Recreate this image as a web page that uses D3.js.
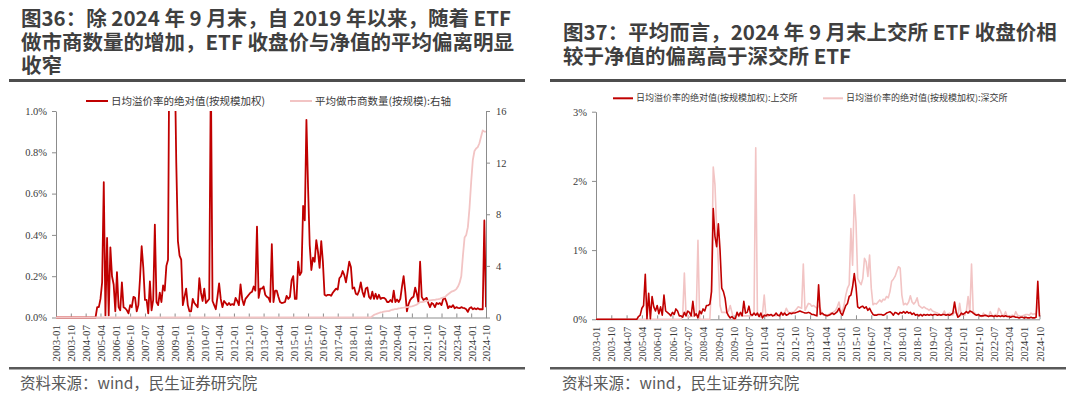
<!DOCTYPE html>
<html><head><meta charset="utf-8">
<script src="https://cdn.jsdelivr.net/npm/d3@7"></script>
<style>body{margin:0;background:#fff}svg{display:block}</style>
</head><body>
<svg id="c" width="1080" height="396"></svg>
<script>
// ---------- DATA ----------
const months = [];
for (let yr = 2003; yr <= 2024; yr++) for (let m = 1; m <= 12; m++) { if (yr === 2024 && m > 10) break; months.push(yr + "-" + String(m).padStart(2, "0")); }

const tickLabels = ["2003-01","2003-10","2004-07","2005-04","2006-01","2006-10","2007-07","2008-04","2009-01","2009-10","2010-07","2011-04","2012-01","2012-10","2013-07","2014-04","2015-01","2015-10","2016-07","2017-04","2018-01","2018-10","2019-07","2020-04","2021-01","2021-10","2022-07","2023-04","2024-01","2024-10"];

// Fig.36 : weighted abs daily premium (%), left axis
const premium = [
0,0,0,0,0,0,0,0,0,0,0,0,
0,0,0,0,0,0,0,0,0,0,0,0,
0,0.05,0.05,0.09,0.17,0.655,0.01,0.385,0.01,0.34,0.2,0.16,
0.03,0.22,0.05,0.035,0.17,0.05,0.045,0.035,0.02,0.06,0.05,0.1,
0.095,0.03,0.06,0.19,0.345,0.24,0.085,0.085,0.02,0.175,0.035,0.085,
0.45,0.075,0.06,0.12,0.075,0.155,0.13,0.25,0.28,1.6,2.0,1.8,
1.3,0.75,0.37,0.3,0.28,0.06,0.1,0.14,0.06,0.03,0.03,0.09,
0.07,0.06,0.05,0.19,0.12,0.08,0.14,0.07,0.08,0.09,1.2,0.08,
0.06,0.04,0.1,0.165,0.09,0.05,0.08,0.07,0.06,0.07,0.06,0.065,
0.06,0.095,0.08,0.06,0.16,0.09,0.06,0.09,0.1,0.11,0.12,0.125,
0.15,0.13,0.44,0.095,0.14,0.14,0.15,0.11,0.1,0.095,0.075,0.355,
0.075,0.13,0.13,0.1,0.075,0.07,0.072,0.075,0.105,0.09,0.1,0.18,
0.2,0.09,0.09,0.27,0.205,0.22,0.54,0.47,0.957,0.63,0.35,0.23,
0.29,0.27,0.375,0.32,0.24,0.37,0.27,0.11,0.105,0.11,0.11,0.105,
0.12,0.13,0.14,0.135,0.19,0.2,0.225,0.205,0.17,0.22,0.27,0.245,
0.14,0.145,0.115,0.11,0.13,0.17,0.125,0.1,0.14,0.145,0.1,0.09,
0.125,0.09,0.115,0.09,0.11,0.09,0.095,0.095,0.09,0.075,0.075,0.085,
0.075,0.13,0.075,0.087,0.075,0.09,0.15,0.2,0.125,0.03,0.065,0.085,
0.095,0.1,0.145,0.115,0.075,0.27,0.1,0.085,0.09,0.095,0.07,0.05,
0.07,0.065,0.05,0.07,0.065,0.07,0.06,0.09,0.095,0.075,0.045,0.055,
0.05,0.06,0.045,0.05,0.047,0.045,0.05,0.047,0.045,0.04,0.027,0.045,
0.05,0.04,0.045,0.04,0.045,0.04,0.04,0.04,0.47,0.05
];

// Fig.36 : average number of market makers, right axis
const makers = [
0,0,0,0,0,0,0,0,0,0,0,0,
0,0,0,0,0,0,0,0,0,0,0,0,
0,0,0,0,0,0,0,0,0,0,0,0,
0,0,0,0,0,0,0,0,0,0,0,0,
0,0,0,0,0,0,0,0,0,0,0,0,
0,0,0,0,0,0,0,0,0,0,0,0,
0,0,0,0,0,0,0,0,0,0,0,0,
0,0,0,0,0,0,0,0,0,0,0,0,
0,0,0,0,0,0,0,0,0,0,0,0,
0,0,0,0,0,0,0,0,0,0,0,0,
0,0,0,0,0,0,0,0,0,0,0,0,
0,0,0,0,0,0,0,0,0,0,0,0,
0,0,0,0,0,0,0,0,0,0,0,0,
0,0,0,0,0,0,0,0,0,0,0,0,
0,0,0,0,0,0,0,0,0,0,0,0,
0,0,0,0,0,0,0,0,0,0,0,0,
0.1,0.2,0.25,0.3,0.35,0.4,0.42,0.45,0.48,0.5,0.5,0.55,
0.6,0.62,0.65,0.66,0.7,0.72,0.75,0.76,0.78,0.8,0.82,0.85,
0.87,0.9,0.95,1.0,1.1,1.19,1.2,1.22,1.25,1.27,1.3,1.32,
1.34,1.36,1.37,1.4,1.42,1.45,1.5,1.55,1.58,1.7,1.8,1.9,
2.0,2.05,2.1,2.2,2.4,2.7,3.2,4.8,6.2,6.4,7.0,8.5,
10.5,12.2,12.9,13.1,13.2,13.5,14.0,14.5,14.4,14.4
];

// Fig.37 : Shanghai exchange (%)
const sse = [
0,0,0,0,0,0,0,0,0,0,0,0,
0,0,0,0,0,0,0,0,0,0,0,0,
0,0.04,0.06,0.16,0.2,0.65,0.01,0.375,0.01,0.33,0.18,0.12,
0.2,0.08,0.18,0.06,0.35,0.12,0.1,0.08,0.05,0.1,0.07,0.15,
0.12,0.05,0.05,0.03,0.1,0.05,0.12,0.1,0.05,0.26,0.05,0.08,
0.02,0.12,0.08,0.15,0.12,0.2,0.2,0.22,0.4,1.6,1.2,1.05,
1.38,1.0,0.45,0.4,0.3,0.1,0.05,0.02,0.04,0.01,0.01,0.1,
0.05,0.1,0.05,0.26,0.09,0.1,0.19,0.07,0.06,0.09,0.06,0.09,
0.04,0.09,0.02,0.06,0.05,0.07,0.06,0.07,0.05,0.06,0.09,0.06,
0.05,0.1,0.06,0.09,0.06,0.07,0.09,0.08,0.09,0.09,0.1,0.11,
0.12,0.11,0.1,0.09,0.09,0.1,0.09,0.07,0.07,0.06,0.05,0.5,
0.07,0.09,0.07,0.06,0.05,0.06,0.07,0.09,0.07,0.09,0.11,0.16,
0.09,0.06,0.13,0.2,0.23,0.33,0.35,0.47,0.66,0.47,0.18,0.16,
0.18,0.19,0.16,0.18,0.13,0.16,0.11,0.07,0.06,0.06,0.07,0.07,
0.07,0.06,0.07,0.09,0.1,0.11,0.09,0.06,0.1,0.09,0.07,0.1,
0.09,0.11,0.09,0.11,0.09,0.1,0.07,0.09,0.06,0.07,0.05,0.07,
0.05,0.07,0.06,0.07,0.06,0.07,0.06,0.07,0.07,0.06,0.07,0.06,
0.07,0.07,0.06,0.07,0.06,0.07,0.09,0.25,0.1,0.03,0.05,0.09,
0.07,0.09,0.11,0.09,0.12,0.11,0.09,0.07,0.06,0.07,0.05,0.05,
0.05,0.06,0.05,0.04,0.05,0.05,0.04,0.05,0.04,0.05,0.04,0.05,
0.04,0.05,0.04,0.04,0.03,0.04,0.04,0.03,0.03,0.02,0.03,0.03,
0.02,0.03,0.02,0.02,0.03,0.02,0.02,0.03,0.55,0.04
];

// Fig.37 : Shenzhen exchange (%)
const szse = [
0,0,0,0,0,0,0,0,0,0,0,0,
0,0,0,0,0,0,0,0,0,0,0,0,
0,0,0,0,0,0,0,0,0,0,0,0,
0,0,0,0,0,0,0,0,0,0,0,0,
0,0,0,0.05,0.67,0.05,0.04,0.03,0.05,0.04,0.06,0.08,
1.14,0,0,0,0,0,0,0,0.5,2.2,1.95,1.3,
0.8,0.2,0.1,0.1,0.1,0.09,0.12,0.2,0.1,0,0,0.1,
0.04,0.06,0.05,0.05,0.05,0.05,0.05,0.05,0.05,0.09,2.48,0.06,
0.05,0.03,0.09,0.35,0.05,0.04,0.05,0.06,0.05,0.06,0.05,0.06,
0.06,0.07,0.08,0.09,0.16,0.11,0.09,0.1,0.1,0.12,0.15,0.18,
0.17,0.16,0.8,0.13,0.18,0.23,0.22,0.19,0.2,0.18,0.16,0.2,
0.15,0.09,0.06,0.07,0.06,0.07,0.09,0.09,0.11,0.13,0.18,0.25,
0.13,0.11,0.21,0.35,0.45,0.5,1.31,0.78,1.8,1.41,0.59,0.54,
0.5,0.59,0.88,0.83,0.62,0.93,0.45,0.21,0.23,0.22,0.25,0.28,
0.25,0.29,0.28,0.33,0.31,0.4,0.55,0.58,0.62,0.69,0.76,0.74,
0.35,0.21,0.23,0.21,0.25,0.34,0.25,0.22,0.25,0.31,0.2,0.18,
0.16,0.18,0.16,0.15,0.13,0.15,0.12,0.11,0.1,0.09,0.07,0.06,
0.07,0.12,0.06,0.07,0.09,0.07,0.06,0.11,0.09,0.05,0.23,0.06,
0.07,0.06,0.13,0.33,0.09,0.8,0.11,0.09,0.06,0.07,0.06,0.04,
0.09,0.05,0.06,0.04,0.11,0.06,0.04,0.07,0.05,0.16,0.12,0.06,
0.05,0.11,0.04,0.04,0.05,0.06,0.04,0.11,0.06,0.05,0.04,0.05,
0.06,0.07,0.07,0.06,0.09,0.07,0.08,0.07,0.25,0.07
];

const leftTicks = [0, 0.2, 0.4, 0.6, 0.8, 1.0];
const rightTicks = [0, 4, 8, 12, 16];
const fig37Ticks = [0, 1, 2, 3];

// ---------- DRAW ----------
const RED = "#C00000", PINK = "#F2C4C4", AXIS = "#8C8C8C", TXT = "#3A3A3A";
const svg = d3.select("#c");
const CJK = "'Noto Sans CJK SC','Noto Sans',sans-serif";
const SERIF = "'Liberation Serif','Times New Roman',serif";

function title(lines, x, y0, lh) {
  const t = svg.append("text").attr("font-family", CJK).attr("font-weight", "bold")
    .attr("font-size", 20.5).attr("fill", "#3F3F3F");
  lines.forEach((s, i) => t.append("tspan").attr("x", x).attr("y", y0 + i * lh).text(s));
}
function rules(x0, x1) {
  svg.append("rect").attr("x", x0).attr("y", 79).attr("width", x1 - x0).attr("height", 3).attr("fill", "#4D4D4D");
  svg.append("rect").attr("x", x0).attr("y", 367).attr("width", x1 - x0).attr("height", 2.5).attr("fill", "#595959");
}
function source(x) {
  svg.append("text").attr("x", x).attr("y", 389).attr("font-family", CJK).attr("font-size", 15.5)
    .attr("fill", "#595959").text("资料来源：wind，民生证券研究院");
}
function legendItem(x, y, color, label, fs, len) {
  svg.append("line").attr("x1", x).attr("x2", x + len).attr("y1", y).attr("y2", y)
    .attr("stroke", color).attr("stroke-width", 2);
  svg.append("text").attr("x", x + len + 3).attr("y", y).attr("dy", "0.35em")
    .attr("font-family", CJK).attr("font-size", fs).attr("fill", TXT).text(label);
}
function xAxis(g, x, yb, fs) {
  const ax = d3.axisBottom(x).tickValues(tickLabels).tickSizeInner(-4).tickSizeOuter(0);
  const a = g.append("g").attr("transform", `translate(0,${yb})`).call(ax);
  a.select(".domain").attr("stroke", AXIS);
  a.selectAll(".tick line").attr("stroke", AXIS);
  a.selectAll(".tick text").attr("transform", "rotate(-90)").attr("x", -7.5).attr("y", 0)
    .attr("dy", "0.35em").style("text-anchor", "end")
    .attr("font-family", SERIF).attr("font-size", fs).attr("fill", TXT);
}
function styleY(a, fs) {
  a.select(".domain").attr("stroke", AXIS);
  a.selectAll(".tick line").attr("stroke", AXIS);
  a.selectAll(".tick text").attr("font-family", SERIF).attr("font-size", fs).attr("fill", TXT);
}

// ---- Figure 36 ----
title(["图36：除 2024 年 9 月末，自 2019 年以来，随着 ETF", "做市商数量的增加，ETF 收盘价与净值的平均偏离明显", "收窄"], 21, 26, 23.5);
rules(9, 525);
source(20);
{
  const X0 = 56, X1 = 486, YT = 111, YB = 317.5;
  const x = d3.scalePoint().domain(months).range([X0, X1]);
  const y = d3.scaleLinear().domain([0, 1.0]).range([YB, YT]);
  const y2 = d3.scaleLinear().domain([0, 16]).range([YB, YT]);
  const g = svg.append("g");
  svg.append("clipPath").attr("id", "clipL").append("rect").attr("x", X0).attr("y", YT).attr("width", X1 - X0).attr("height", YB - YT + 3);
  const ya = g.append("g").attr("transform", `translate(${X0},0)`)
    .call(d3.axisLeft(y).tickValues(leftTicks).tickFormat(d => d.toFixed(1) + "%").tickSizeInner(4).tickSizeOuter(0).tickPadding(5));
  styleY(ya, 10.5);
  const yb = g.append("g").attr("transform", `translate(${X1},0)`)
    .call(d3.axisRight(y2).tickValues(rightTicks).tickSizeInner(4).tickSizeOuter(0).tickPadding(6));
  styleY(yb, 10.5);
  xAxis(g, x, YB, 11);
  const lineP = d3.line().x((d, i) => x(months[i])).y(d => y(d));
  const lineM = d3.line().x((d, i) => x(months[i])).y(d => y2(d));
  g.append("path").datum(premium).attr("d", lineP).attr("fill", "none").attr("stroke", RED)
    .attr("stroke-width", 1.8).attr("stroke-linejoin", "round").attr("clip-path", "url(#clipL)");
  g.append("path").datum(makers).attr("d", lineM).attr("fill", "none").attr("stroke", PINK)
    .attr("stroke-width", 1.8).attr("stroke-linejoin", "round");
  legendItem(86, 101, RED, "日均溢价率的绝对值(按规模加权)", 10.5, 22);
  legendItem(290, 101, PINK, "平均做市商数量(按规模):右轴", 10.5, 22);
}

// ---- Figure 37 ----
title(["图37：平均而言，2024 年 9 月末上交所 ETF 收盘价相", "较于净值的偏离高于深交所 ETF"], 563, 40, 23.5);
rules(550, 1066);
source(562);
{
  const X0 = 596, X1 = 1039.5, YT = 111.7, YB = 319.3;
  const x = d3.scalePoint().domain(months).range([X0, X1]);
  const y = d3.scaleLinear().domain([0, 3]).range([YB, YT]);
  const g = svg.append("g");
  const ya = g.append("g").attr("transform", `translate(${X0},0)`)
    .call(d3.axisLeft(y).tickValues(fig37Ticks).tickFormat(d => d + "%").tickSizeInner(4).tickSizeOuter(0).tickPadding(5));
  styleY(ya, 10.5);
  xAxis(g, x, YB, 10.5);
  const line = d3.line().x((d, i) => x(months[i])).y(d => y(d));
  g.append("path").datum(szse).attr("d", line).attr("fill", "none").attr("stroke", PINK)
    .attr("stroke-width", 1.6).attr("stroke-linejoin", "round");
  g.append("path").datum(sse).attr("d", line).attr("fill", "none").attr("stroke", RED)
    .attr("stroke-width", 1.6).attr("stroke-linejoin", "round");
  legendItem(613, 98.3, RED, "日均溢价率的绝对值(按规模加权):上交所", 9, 20);
  legendItem(823, 98.3, PINK, "日均溢价率的绝对值(按规模加权):深交所", 9, 20);
}
</script>
</body></html>
